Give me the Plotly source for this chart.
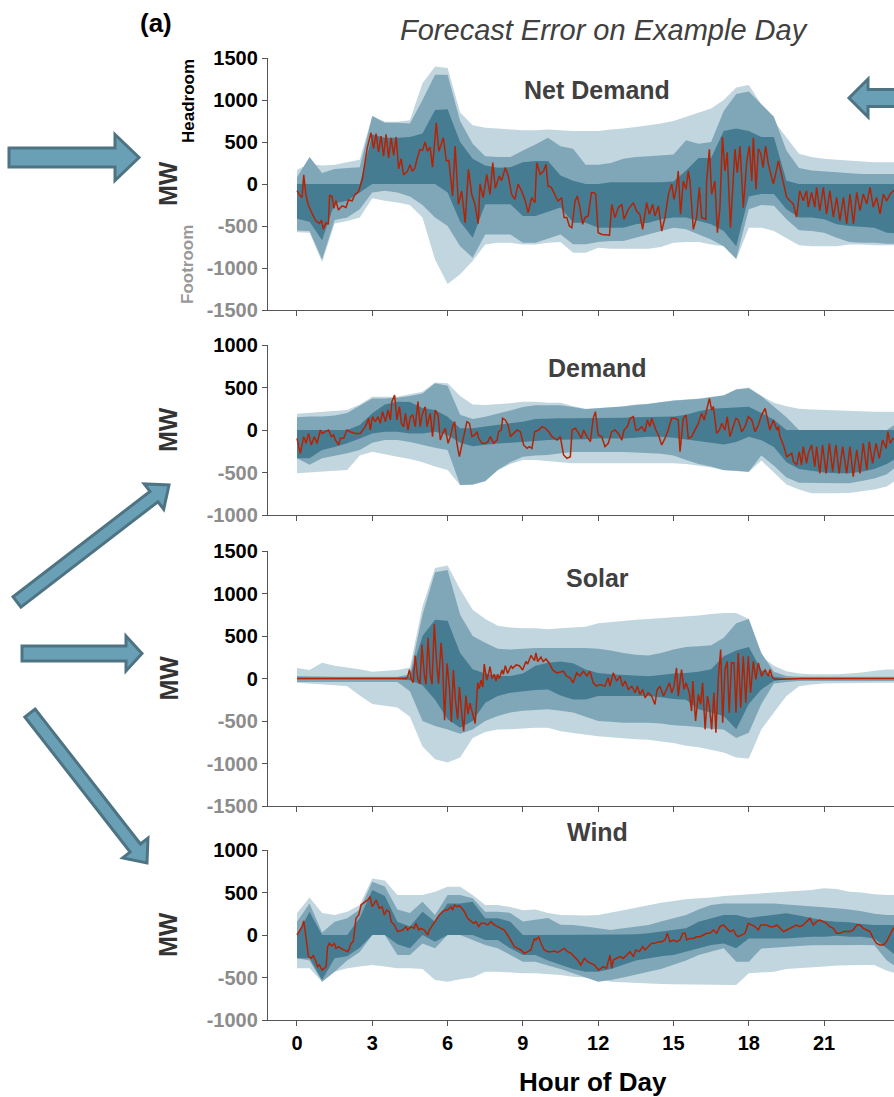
import plotly.graph_objects as go
import numpy as np

# ---------------- data ----------------
band_hours = [i * 0.5 for i in range(49)]  # 0 .. 24 h

# Net Demand percentile bands (MW)
nd_light_hi = [170, 240, 220, 230, 260, 290, 810, 740, 740, 760, 1200, 1400, 1380, 850, 700, 670, 660, 650, 640, 640,
               650, 640, 630, 630, 630, 650, 660, 680, 700, 720, 750, 800, 850, 900, 1000, 1150, 1180, 950, 750, 550,
               360, 320, 300, 290, 280, 270, 260, 260, 260]
nd_mid_hi = [80, 320, 130, 180, 190, 200, 810, 730, 730, 720, 1000, 1300, 1300, 750, 480, 330, 320, 320, 400, 470,
             550, 450, 420, 230, 230, 250, 300, 320, 330, 340, 350, 520, 480, 500, 870, 1070, 1100, 950, 800, 400,
             190, 160, 150, 140, 130, 120, 120, 120, 120]
nd_dark_hi = [0, 0, 0, 0, 0, 0, 590, 550, 550, 560, 600, 880, 890, 500, 300, 220, 194, 200, 260, 274,
              274, 100, 40, 0, 0, 20, 20, 20, 20, 20, 30, 160, 310, 310, 630, 660, 630, 560, 560, 40,
              0, 0, 0, 0, 0, 0, 0, 0, 0]
nd_dark_lo = [-415, -450, -670, -230, -200, -100, 0, 0, 0, 0, 0, 0, -100, -450, -640, -242, -242, -242, -380, -380,
              -330, -281, -460, -460, -520, -520, -520, -480, -460, -420, -400, -400, -440, -480, -560, -740, -150, -120, -120, -300,
              -400, -400, -420, -480, -500, -510, -520, -580, -590]
nd_mid_lo = [-553, -560, -900, -430, -400, -300, -100, -80, -100, -150, -250, -400, -500, -740, -877, -600, -600, -600, -700, -700,
             -650, -600, -718, -718, -690, -680, -680, -640, -600, -560, -520, -540, -600, -660, -740, -890, -300, -250, -260, -420,
             -550, -560, -580, -640, -690, -700, -700, -710, -710]
nd_light_lo = [-573, -580, -930, -470, -440, -400, -170, -200, -220, -250, -400, -900, -1190, -1075, -916, -720, -700, -700, -720, -720,
               -700, -690, -817, -817, -760, -770, -770, -770, -770, -750, -700, -690, -690, -720, -740, -900, -520, -520, -560, -650,
               -730, -740, -740, -740, -720, -720, -730, -730, -730]

# Demand percentile bands (MW)
dm_light_hi = [190, 200, 215, 225, 235, 300, 392, 392, 392, 420, 450, 560, 550, 400, 300, 294, 300, 314, 333, 333,
               320, 320, 280, 250, 260, 270, 280, 300, 310, 330, 350, 360, 370, 390, 410, 480, 500, 400, 320, 280,
               250, 240, 235, 230, 220, 216, 216, 216, 216]
dm_mid_hi = [150, 160, 160, 170, 200, 290, 370, 370, 380, 400, 430, 550, 520, 180, 130, 157, 190, 230, 270, 290,
             290, 290, 270, 245, 255, 265, 275, 295, 305, 325, 345, 355, 365, 385, 405, 475, 490, 400, 280, 150,
             0, 0, 0, 0, 0, 0, 0, 0, 100]
dm_dark_hi = [0, 0, 0, 0, 0, 60, 196, 300, 333, 330, 260, 235, 157, 20, 20, 40, 60, 78, 98, 130,
              137, 137, 137, 137, 140, 140, 145, 150, 155, 157, 160, 180, 220, 250, 255, 265, 274, 200, 120, 0,
              0, 0, 0, 0, 0, 0, 0, 0, 0]
dm_dark_lo = [-333, -333, -235, -200, -157, -100, -40, -20, -20, -40, -40, -20, -60, -150, -190, -176, -160, -150, -137, -130,
              -118, -118, -110, -110, -100, -100, -100, -90, -80, -80, -90, -110, -130, -150, -170, -140, -80, -120, -200, -380,
              -460, -480, -500, -510, -510, -490, -460, -400, -314]
dm_mid_lo = [-333, -410, -333, -300, -274, -235, -150, -118, -118, -140, -176, -210, -235, -647, -640, -600, -470, -380, -314, -300,
             -294, -274, -260, -260, -260, -260, -260, -265, -270, -280, -300, -353, -400, -430, -470, -480, -490, -300, -420, -560,
             -620, -627, -627, -627, -627, -600, -570, -520, -400]
dm_light_lo = [-510, -500, -490, -480, -470, -300, -255, -280, -314, -340, -380, -430, -470, -650, -645, -605, -475, -400, -353, -353,
               -370, -380, -392, -392, -392, -392, -392, -392, -392, -392, -392, -400, -420, -440, -475, -485, -495, -360, -500, -640,
               -700, -745, -745, -745, -740, -720, -700, -666, -560]

# Solar percentile bands (MW)
so_light_hi = [125, 100, 184, 150, 130, 110, 80, 90, 100, 130, 850, 1300, 1330, 1050, 810, 700, 620, 600, 590, 590,
               580, 590, 600, 610, 650, 665, 680, 690, 700, 710, 720, 730, 740, 760, 770, 770, 700, 262, 150, 86,
               60, 50, 50, 50, 60, 70, 90, 105, 105]
so_mid_hi = [30, 30, 25, 20, 20, 20, 20, 20, 20, 50, 750, 1250, 1277, 750, 500, 420, 350, 340, 350, 360,
             360, 360, 360, 360, 350, 330, 300, 280, 270, 300, 340, 370, 380, 390, 480, 650, 700, 300, 80, 30,
             20, 20, 20, 20, 20, 20, 20, 20, 20]
so_dark_hi = [10, 10, 10, 10, 10, 10, 10, 10, 10, 20, 500, 691, 680, 300, 110, 60, 30, 30, 60, 150,
              184, 200, 180, 105, 66, 50, 40, 30, 27, 40, 60, 66, 80, 110, 262, 330, 370, 100, 20, 5,
              5, 5, 5, 5, 5, 5, 5, 5, 5]
so_dark_lo = [-10, -10, -10, -10, -10, -10, -10, -10, -10, -20, -80, -250, -480, -580, -500, -285, -207, -168, -150, -135,
              -130, -200, -246, -246, -207, -207, -207, -207, -207, -220, -240, -250, -363, -400, -441, -598, -300, -129, -30, -10,
              -5, -5, -5, -5, -5, -5, -5, -5, -5]
so_mid_lo = [-40, -40, -40, -40, -40, -40, -40, -40, -40, -150, -500, -560, -600, -650, -600, -500, -441, -400, -380, -370,
             -363, -380, -400, -450, -500, -510, -520, -520, -520, -530, -550, -559, -570, -590, -600, -700, -637, -300, -60, -40,
             -30, -30, -30, -30, -30, -30, -30, -30, -30]
so_light_lo = [-50, -60, -70, -80, -90, -200, -300, -320, -340, -450, -800, -950, -988, -930, -700, -630, -600, -598, -590, -580,
               -580, -620, -640, -656, -680, -690, -700, -715, -720, -740, -760, -790, -810, -840, -870, -930, -940, -600, -400, -207,
               -90, -70, -60, -55, -50, -50, -50, -50, -50]

# Wind percentile bands (MW)
wi_light_hi = [255, 440, 260, 235, 274, 353, 666, 640, 470, 470, 470, 510, 568, 568, 470, 353, 353, 330, 290, 300,
               260, 235, 230, 230, 235, 260, 290, 320, 353, 380, 400, 420, 431, 440, 460, 470, 480, 490, 500, 510,
               520, 530, 549, 540, 510, 500, 480, 470, 470]
wi_mid_hi = [157, 372, 30, 157, 196, 300, 627, 570, 300, 260, 392, 235, 470, 470, 431, 274, 274, 260, 160, 180,
             200, 120, 118, 100, 80, 60, 80, 100, 118, 160, 200, 235, 300, 353, 372, 372, 372, 372, 372, 360,
             350, 340, 330, 314, 300, 280, 250, 235, 235]
wi_dark_hi = [0, 274, 0, 0, 0, 200, 529, 460, 157, 100, 274, 157, 372, 372, 392, 196, 196, 157, 0, 0,
              0, 0, 0, 0, 0, 0, 5, 10, 20, 40, 60, 78, 157, 200, 235, 235, 200, 220, 240, 255,
              230, 200, 170, 157, 150, 130, 118, 118, 118]
wi_dark_lo = [-274, -274, -529, -274, -250, -150, 0, 0, -110, -157, 0, -78, 0, 0, 0, -60, -60, -157, -235, -235,
              -300, -353, -400, -431, -431, -400, -350, -300, -274, -250, -235, -200, -157, -118, -100, -157, -40, -40, -40, -40,
              -30, -20, -20, -10, -20, -20, -40, -157, -274]
wi_mid_lo = [-274, -300, -550, -431, -300, -200, 0, 0, -235, -235, -100, -157, 0, 0, -60, -118, -157, -235, -314, -314,
             -360, -400, -450, -500, -549, -530, -500, -470, -431, -400, -353, -300, -235, -200, -157, -314, -314, -160, -150, -140,
             -130, -120, -118, -118, -118, -118, -120, -300, -400]
wi_light_lo = [-392, -392, -550, -431, -392, -372, -353, -372, -392, -392, -400, -529, -549, -520, -500, -431, -431, -440, -451, -451,
               -460, -470, -490, -500, -510, -549, -555, -560, -568, -575, -580, -585, -588, -588, -588, -588, -450, -440, -431, -400,
               -390, -380, -370, -360, -353, -353, -353, -420, -460]

# Realised forecast error on the example day (hour, MW)
nd_err_h = [0.00, 0.10, 0.20, 0.27, 0.35, 0.45, 0.60, 0.75, 0.90, 0.98, 1.05, 1.15, 1.25, 1.30, 1.40, 1.47, 1.55, 1.65, 1.80, 1.95,
            2.05, 2.20, 2.30, 2.45, 2.60, 2.70, 2.80, 2.95, 3.05, 3.15, 3.25, 3.35, 3.45, 3.55, 3.65, 3.75, 3.85, 3.95, 4.05, 4.15,
            4.25, 4.40, 4.50, 4.60, 4.70, 4.80, 4.90, 5.00, 5.10, 5.20, 5.30, 5.40, 5.55, 5.65, 5.83, 5.95, 6.05, 6.20, 6.30, 6.43,
            6.56, 6.70, 6.83, 6.96, 7.09, 7.22, 7.29, 7.42, 7.56, 7.69, 7.80, 7.90, 8.06, 8.15, 8.30, 8.42, 8.55, 8.68, 8.81, 8.94,
            9.08, 9.21, 9.35, 9.48, 9.55, 9.69, 9.82, 9.92, 10.00, 10.13, 10.27, 10.40, 10.54, 10.64, 10.75, 10.85, 10.95, 11.08, 11.17, 11.27,
            11.38, 11.47, 11.60, 11.73, 11.83, 11.90, 12.00, 12.15, 12.45, 12.54, 12.67, 12.80, 12.94, 13.03, 13.20, 13.40, 13.53, 13.66, 13.77, 13.93,
            14.04, 14.17, 14.26, 14.40, 14.53, 14.66, 14.80, 14.93, 15.02, 15.12, 15.19, 15.28, 15.39, 15.50, 15.59, 15.66, 15.79, 15.92, 16.03, 16.12,
            16.29, 16.32, 16.43, 16.52, 16.65, 16.75, 16.85, 16.95, 17.05, 17.14, 17.27, 17.45, 17.54, 17.65, 17.78, 17.92, 18.02, 18.12, 18.18, 18.29,
            18.38, 18.48, 18.57, 18.67, 18.78, 18.85, 18.98, 19.18, 19.38, 19.51, 19.64, 19.77, 19.90, 20.03, 20.17, 20.30, 20.37, 20.50, 20.63, 20.70,
            20.83, 20.97, 21.10, 21.23, 21.37, 21.50, 21.63, 21.77, 21.90, 22.03, 22.17, 22.30, 22.43, 22.56, 22.70, 22.83, 22.96, 23.09, 23.23, 23.36,
            23.49, 23.63, 23.76, 24.00]
nd_err_v = [-80, -130, -160, 110, -120, -250, -350, -440, -470, -430, -540, -460, -480, -130, -150, -290, -200, -310, -260, -280,
            -190, -200, -130, -90, 50, 250, 430, 610, 420, 600, 380, 570, 330, 590, 310, 550, 340, 560, 180, 300,
            110, 150, 230, 150, 190, 320, 410, 400, 500, 390, 440, 200, 730, 390, 550, 274, 280, -143, 452, -242,
            -83, -460, 174, -123, -240, -472, 0, -163, 115, -123, 254, -50, 95, 40, 194, 95, -123, -183, 0, -80,
            -183, -341, -163, -222, 254, 115, 155, 234, -24, -40, -123, -202, -163, -400, -400, -500, -520, -202, -143, -281,
            -480, -400, -380, -103, -103, -123, -580, -600, -610, -242, -400, -281, -242, -420, -301, -222, -321, -360, -539, -222,
            -360, -242, -380, -262, -560, -400, -123, 0, -182, -40, 155, -360, 36, -63, 155, 20, -540, -400, -40, -400,
            -420, 36, 413, -123, 36, -580, -281, 560, 155, 377, -520, 416, 135, 450, -282, 274, 450, 36, 550, -63,
            420, 360, 194, 450, 234, 160, 0, 276, 0, -160, -200, -237, -395, -80, -200, -80, -276, -100, -276, -40,
            -316, -40, -355, -80, -395, -160, -435, -160, -474, -120, -474, -100, -316, -120, -237, -40, -276, -160, -355, -120,
            -200, -120, -80, -150]

dm_err_h = [0.00, 0.13, 0.27, 0.36, 0.46, 0.57, 0.69, 0.80, 0.93, 1.00, 1.13, 1.26, 1.37, 1.46, 1.53, 1.66, 1.73, 1.86, 1.99, 2.12,
            2.32, 2.52, 2.72, 2.86, 2.92, 3.01, 3.12, 3.23, 3.32, 3.41, 3.52, 3.63, 3.72, 3.78, 3.89, 3.98, 4.08, 4.16, 4.25, 4.32,
            4.42, 4.52, 4.61, 4.71, 4.82, 4.91, 4.98, 5.11, 5.18, 5.31, 5.40, 5.51, 5.62, 5.71, 5.80, 5.91, 6.02, 6.11, 6.20, 6.28,
            6.37, 6.47, 6.57, 6.68, 6.77, 6.87, 6.97, 7.08, 7.17, 7.24, 7.37, 7.50, 7.61, 7.70, 7.84, 7.97, 8.03, 8.14, 8.19, 8.30,
            8.41, 8.50, 8.63, 8.77, 8.90, 9.03, 9.16, 9.26, 9.36, 9.47, 9.63, 9.76, 9.89, 10.03, 10.16, 10.27, 10.36, 10.49, 10.62, 10.76,
            10.89, 10.96, 11.09, 11.22, 11.33, 11.42, 11.55, 11.69, 11.80, 11.89, 12.00, 12.14, 12.27, 12.40, 12.54, 12.67, 12.80, 12.94, 13.03, 13.16,
            13.27, 13.40, 13.50, 13.60, 13.73, 13.86, 13.96, 14.06, 14.13, 14.30, 14.40, 14.53, 14.66, 14.79, 14.92, 15.06, 15.19, 15.26, 15.39, 15.50,
            15.59, 15.72, 15.86, 15.99, 16.12, 16.22, 16.32, 16.43, 16.52, 16.59, 16.72, 16.83, 16.92, 17.05, 17.14, 17.25, 17.38, 17.49, 17.58, 17.72,
            17.85, 17.98, 18.12, 18.25, 18.38, 18.51, 18.65, 18.78, 18.84, 18.91, 18.98, 19.12, 19.18, 19.24, 19.38, 19.51, 19.62, 19.71, 19.78, 19.91,
            20.01, 20.10, 20.17, 20.30, 20.37, 20.50, 20.63, 20.70, 20.83, 20.94, 21.08, 21.21, 21.34, 21.47, 21.60, 21.74, 21.90, 22.03, 22.16, 22.30,
            22.43, 22.56, 22.70, 22.80, 22.93, 23.07, 23.20, 23.33, 23.47, 23.54, 23.63, 23.74, 24.00]
dm_err_v = [-98, -274, -78, -157, -40, -176, -78, -157, 0, -40, -20, 0, -78, -59, -118, -176, -98, -98, 0, -20,
            -40, -40, 40, 137, 0, 157, 98, 157, 78, 216, 98, 235, 118, 333, 412, 118, 274, 78, 40, 196,
            0, 157, 176, 40, 333, 40, 176, 274, 40, 196, -78, 235, 176, -118, -40, 20, -157, -78, 40, 98,
            -157, -314, -176, 0, 98, 78, -78, -59, -20, -98, -157, -157, -137, -78, -157, -118, -20, 0, 137, 118,
            59, -78, -40, 0, -20, -176, -216, -196, -216, -20, 0, 40, 20, -20, -78, -98, -118, -78, -294, -333,
            -314, 0, 20, -40, -98, 0, -78, -137, 137, 216, -59, -78, -196, -157, -20, 0, -40, -118, 0, 40,
            137, 157, 0, 0, 40, -20, 118, 40, 137, 0, -59, -176, -98, 0, 137, 137, 118, -255, 137, 176,
            -98, -78, 0, 78, 196, 118, 235, 372, 235, 274, -40, 0, 78, 0, 157, -78, 40, 137, 118, -20,
            40, 157, 118, -20, 59, 176, 255, 78, 0, 59, 118, 0, 40, -78, -176, -314, -294, -274, -372, -412,
            -255, -412, -196, -392, -274, -176, -431, -196, -510, -176, -510, -157, -490, -176, -510, -196, -510, -196, -549, -235,
            -510, -157, -470, -137, -392, -157, -333, -118, -216, -20, -157, -98, -150]

so_err_h = [0.00, 4.34, 4.41, 4.48, 4.54, 4.63, 4.71, 4.81, 4.90, 4.98, 5.07, 5.14, 5.22, 5.31, 5.38, 5.47, 5.56, 5.64, 5.74, 5.80,
            5.88, 5.98, 6.07, 6.15, 6.23, 6.31, 6.40, 6.47, 6.56, 6.64, 6.73, 6.81, 6.89, 7.00, 7.10, 7.20, 7.26, 7.33, 7.40, 7.46,
            7.56, 7.64, 7.69, 7.77, 7.86, 7.93, 7.99, 8.06, 8.17, 8.22, 8.30, 8.39, 8.46, 8.53, 8.59, 8.73, 8.86, 8.99, 9.12, 9.19,
            9.32, 9.46, 9.52, 9.59, 9.72, 9.81, 9.92, 10.05, 10.19, 10.35, 10.61, 10.74, 10.87, 11.00, 11.14, 11.27, 11.41, 11.55, 11.67, 11.80,
            11.94, 12.07, 12.27, 12.40, 12.47, 12.60, 12.73, 12.87, 12.97, 13.07, 13.20, 13.34, 13.47, 13.56, 13.67, 13.77, 13.87, 13.99, 14.13, 14.26,
            14.35, 14.46, 14.60, 14.73, 14.84, 14.93, 15.02, 15.12, 15.19, 15.32, 15.42, 15.50, 15.63, 15.72, 15.77, 15.88, 15.99, 16.08, 16.16, 16.26,
            16.35, 16.43, 16.52, 16.61, 16.69, 16.79, 16.88, 16.96, 17.05, 17.14, 17.22, 17.31, 17.41, 17.49, 17.58, 17.68, 17.78, 17.88, 17.98, 18.07,
            18.18, 18.28, 18.38, 18.51, 18.65, 18.78, 18.84, 18.95, 19.04, 19.37, 20.04, 24.00]
so_err_v = [0, 0, 20, 105, 0, -50, 270, 0, -60, 400, 50, -70, 480, 50, -70, 640, 200, -60, 420, 200,
            -490, 180, -100, -510, 100, -250, -480, -100, -400, -620, -200, -420, -290, -420, -530, -50, -120, -20, -100, 170,
            -20, 70, 140, 0, 50, -30, 50, 0, 100, 50, 150, 60, 100, 150, 120, 160, 150, 100, 200, 170,
            270, 210, 300, 200, 250, 200, 230, 180, 100, 66, 86, 27, 10, -50, 66, 30, 86, 30, 86, -50,
            -90, -70, -90, 8, -90, 66, -30, 27, -90, -30, -129, -90, -168, -90, -188, -129, -227, -168, -207, -305,
            -129, -90, -207, -110, -50, -168, -90, 125, -207, 105, -129, -50, -168, -383, -30, -500, -188, -305, -50, -598,
            -207, -324, -598, -168, -637, 27, 340, -520, 105, 203, -402, 184, 184, -402, 300, -344, 262, -285, 262, -168,
            203, -10, 184, 27, 105, 27, 105, 8, -10, -10, 0, 0]

wi_err_h = [0.00, 0.09, 0.20, 0.27, 0.36, 0.46, 0.56, 0.65, 0.76, 0.82, 0.89, 1.00, 1.09, 1.16, 1.22, 1.29, 1.39, 1.49, 1.55, 1.66,
            1.75, 1.89, 2.02, 2.09, 2.15, 2.24, 2.35, 2.46, 2.55, 2.68, 2.82, 2.91, 2.99, 3.08, 3.15, 3.28, 3.39, 3.48, 3.57, 3.68,
            3.75, 3.88, 4.01, 4.21, 4.34, 4.41, 4.54, 4.67, 4.74, 4.85, 4.94, 5.07, 5.21, 5.27, 5.40, 5.54, 5.67, 5.80, 5.91, 6.00,
            6.07, 6.14, 6.20, 6.27, 6.36, 6.47, 6.57, 6.67, 6.80, 6.93, 7.03, 7.13, 7.24, 7.33, 7.46, 7.60, 7.73, 7.86, 7.99, 8.13,
            8.26, 8.39, 8.53, 8.66, 8.79, 8.92, 9.06, 9.19, 9.32, 9.46, 9.52, 9.63, 9.72, 9.85, 9.99, 10.12, 10.25, 10.39, 10.52, 10.65,
            10.78, 10.92, 11.05, 11.18, 11.31, 11.45, 11.58, 11.71, 11.85, 12.02, 12.20, 12.33, 12.47, 12.54, 12.60, 12.73, 12.87, 13.00, 13.13, 13.27,
            13.40, 13.50, 13.64, 13.77, 13.86, 13.99, 14.13, 14.26, 14.40, 14.53, 14.66, 14.75, 14.86, 15.00, 15.12, 15.26, 15.37, 15.46, 15.53, 15.66,
            15.79, 15.93, 16.06, 16.19, 16.32, 16.45, 16.59, 16.72, 16.85, 16.99, 17.12, 17.25, 17.39, 17.49, 17.58, 17.72, 17.85, 17.98, 18.11, 18.25,
            18.38, 18.47, 18.58, 18.71, 18.84, 18.98, 19.12, 19.25, 19.38, 19.51, 19.64, 19.77, 19.90, 20.03, 20.17, 20.30, 20.44, 20.57, 20.70, 20.83,
            20.97, 21.10, 21.23, 21.37, 21.50, 21.63, 21.77, 21.90, 22.03, 22.16, 22.30, 22.43, 22.56, 22.70, 22.83, 22.96, 23.09, 23.23, 23.36, 23.49,
            23.63, 23.76, 24.00]
wi_err_v = [0, 40, 98, 165, -40, -255, -274, -243, -314, -372, -353, -412, -392, -372, -137, -98, -129, -98, -157, -137,
            -157, -176, -196, -157, -98, -78, 196, 235, 353, 384, 412, 451, 333, 372, 412, 314, 333, 235, 294, 274,
            157, 118, 40, 59, 98, 59, 98, 78, 137, 59, 78, 59, 0, 59, 118, 176, 235, 274, 294, 294,
            314, 333, 294, 353, 333, 345, 314, 274, 196, 157, 137, 157, 98, 137, 137, 118, 157, 118, 98, 78,
            59, 0, -78, -137, -157, -176, -216, -196, -176, -40, -59, -20, -98, -176, -196, -196, -188, -204, -176, -157,
            -196, -216, -255, -294, -353, -274, -314, -333, -353, -412, -372, -392, -235, -392, -294, -274, -255, -274, -235, -196,
            -255, -176, -196, -137, -176, -137, -98, -98, -78, -78, -59, 20, -78, -59, -78, -59, 20, 20, -59, -40,
            -40, -20, -20, 0, 20, 20, 59, 20, 98, 118, 78, 40, 59, 0, -20, 0, 20, 137, 118, 98,
            59, 118, 118, 118, 98, 98, 118, 78, 40, 59, 78, 98, 118, 98, 118, 157, 196, 118, 157, 176,
            157, 137, 98, 78, 20, 20, 40, 40, 40, 59, 118, 118, 78, 59, 40, -40, -98, -118, -118, -78,
            0, 78, 120]

panel_titles = ["Net Demand", "Demand", "Solar", "Wind"]
y_ranges = [1500, 1000, 1500, 1000]
x_tick_vals = [0, 3, 6, 9, 12, 15, 18, 21]

# ---------------- styling ----------------
FONT = "Liberation Sans, Arial, sans-serif"
C_LIGHT = "#c2d6df"
C_MID = "#80a7b8"
C_DARK = "#467c92"
C_RED = "#b52305"
C_AXIS = "#555555"
C_NEG = "#8c8c8c"

W, H = 894, 1097
PL, PR, PT, PB = 268, 894, 58, 1020  # plot-area pixel box


def px_x(px):
    return (px - PL) / (PR - PL)


def px_y(py):
    return (PB - py) / (PB - PT)


# panel pixel extents (top, bottom)
panel_px = [(58, 310), (345, 515), (551, 806), (850, 1020)]

panels = [
    (nd_light_hi, nd_light_lo, nd_mid_hi, nd_mid_lo, nd_dark_hi, nd_dark_lo, nd_err_h, nd_err_v),
    (dm_light_hi, dm_light_lo, dm_mid_hi, dm_mid_lo, dm_dark_hi, dm_dark_lo, dm_err_h, dm_err_v),
    (so_light_hi, so_light_lo, so_mid_hi, so_mid_lo, so_dark_hi, so_dark_lo, so_err_h, so_err_v),
    (wi_light_hi, wi_light_lo, wi_mid_hi, wi_mid_lo, wi_dark_hi, wi_dark_lo, wi_err_h, wi_err_v),
]

fig = go.Figure()
layout_axes = {}
for k, (lh, ll, mh, ml, dh, dl, eh, ev) in enumerate(panels):
    idx = k + 1
    xa = "x" if idx == 1 else f"x{idx}"
    ya = "y" if idx == 1 else f"y{idx}"
    for hi, lo, col in ((lh, ll, C_LIGHT), (mh, ml, C_MID), (dh, dl, C_DARK)):
        fig.add_trace(go.Scatter(
            x=band_hours + band_hours[::-1], y=hi + lo[::-1],
            fill="toself", fillcolor=col, mode="lines", line=dict(width=0, color=col),
            hoverinfo="skip", showlegend=False, xaxis=xa, yaxis=ya))
    n = min(len(eh), len(ev))
    fig.add_trace(go.Scatter(x=eh[:n], y=ev[:n], mode="lines",
                             line=dict(color=C_RED, width=1.5), showlegend=False,
                             xaxis=xa, yaxis=ya))

    top, bot = panel_px[k]
    r = y_ranges[k]
    yt = list(range(-r, r + 1, 500))
    ytxt = [f"<span style='color:{C_NEG}'>{v}</span>" if v < 0 else str(v) for v in yt]
    layout_axes[f"xaxis{idx if idx > 1 else ''}"] = dict(
        domain=[0, 1], anchor=ya, range=[-1.155, 23.785],
        showline=True, linecolor=C_AXIS, linewidth=1.3, ticks="outside", ticklen=5,
        tickcolor=C_AXIS, tickwidth=1.3, tickvals=x_tick_vals,
        showticklabels=(idx == 4), showgrid=False, zeroline=False,
        tickfont=dict(family=FONT, size=20, color="#000", weight="bold"))
    layout_axes[f"yaxis{idx if idx > 1 else ''}"] = dict(
        domain=[px_y(bot), px_y(top)], anchor=xa, range=[-r, r],
        showline=True, linecolor=C_AXIS, linewidth=1.3, ticks="outside", ticklen=5,
        tickcolor=C_AXIS, tickwidth=1.3, tickvals=yt, ticktext=ytxt,
        showgrid=False, zeroline=False,
        tickfont=dict(family=FONT, size=20, color="#000", weight="bold"))

annotations = []


def add_text(text, px, py, size, color="#000", bold=True, italic=False, angle=0):
    annotations.append(dict(
        text=text, x=px_x(px), y=px_y(py), xref="paper", yref="paper",
        xanchor="center", yanchor="middle", showarrow=False, textangle=angle,
        font=dict(family=FONT, size=size, color=color,
                  weight="bold" if bold else "normal",
                  style="italic" if italic else "normal")))


add_text("(a)", 156, 23, 26)
add_text("Forecast Error on Example Day", 604, 30, 29, color="#404040", bold=False, italic=True)
title_y = [90, 368, 578, 832]
for t, ty in zip(panel_titles, title_y):
    add_text(t, 597, ty, 25, color="#404040")
for (top, bot) in panel_px:
    add_text("MW", 168, (top + bot) / 2, 25, color="#333333", angle=-90)
add_text("Headroom", 188, 101, 17, color="#000", angle=-90)
add_text("Footroom", 187, 265, 17, color="#999999", angle=-90)
add_text("Hour of Day", 593, 1082, 26)


# decorative block arrows
def arrow_path(tail, tip, shaft_w, head_w, head_len):
    tx, ty = tail
    hx, hy = tip
    dx, dy = hx - tx, hy - ty
    L = (dx * dx + dy * dy) ** 0.5
    ux, uy = dx / L, dy / L
    nx, ny = -uy, ux
    bx, by = hx - ux * head_len, hy - uy * head_len
    pts = [
        (tx + nx * shaft_w / 2, ty + ny * shaft_w / 2),
        (bx + nx * shaft_w / 2, by + ny * shaft_w / 2),
        (bx + nx * head_w / 2, by + ny * head_w / 2),
        (hx, hy),
        (bx - nx * head_w / 2, by - ny * head_w / 2),
        (bx - nx * shaft_w / 2, by - ny * shaft_w / 2),
        (tx - nx * shaft_w / 2, ty - ny * shaft_w / 2),
    ]
    return "M " + " L ".join(f"{px_x(x):.5f},{px_y(y):.5f}" for x, y in pts) + " Z"


arrows = [
    ((9, 157.5), (139, 157.5), 19, 46, 24),
    ((920, 98), (849, 98), 17, 38, 19),
    ((17, 602), (169, 485), 13, 32, 19),
    ((22, 653.5), (142, 653.5), 15, 35, 16),
    ((30, 713), (147, 863), 13, 32, 19),
]
shapes = []
for tail, tip, sw, hw, hl in arrows:
    shapes.append(dict(type="path", xref="paper", yref="paper",
                       path=arrow_path(tail, tip, sw, hw, hl),
                       fillcolor="#6aa0b5", line=dict(color="#4e7484", width=3)))

fig.update_layout(
    width=W, height=H,
    margin=dict(l=PL, r=W - PR, t=PT, b=H - PB),
    paper_bgcolor="white", plot_bgcolor="white",
    showlegend=False, annotations=annotations, shapes=shapes,
    font=dict(family=FONT),
    **layout_axes)

fig.write_html("out.html",
               config={"displayModeBar": False},
               post_script="document.body.style.margin='0px';"
                           "document.body.style.padding='0px';"
                           "document.body.style.overflow='hidden';"
                           "document.documentElement.style.overflow='hidden';")
